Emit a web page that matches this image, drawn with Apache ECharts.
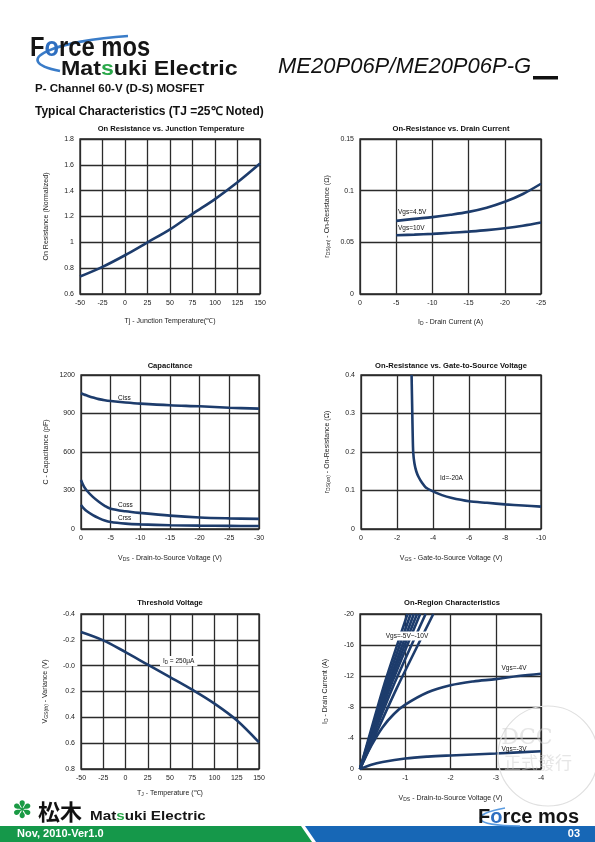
<!DOCTYPE html>
<html><head><meta charset="utf-8">
<script src="https://cdn.jsdelivr.net/npm/echarts@6/dist/echarts.min.js"></script>
<style>html,body{margin:0;padding:0;background:#fff;}#c{width:595px;height:842px;}</style>
</head><body><div id="c"></div>
<script>
// ---------- DATA ----------
// Chart 1: On Resistance vs. Junction Temperature
const c1Temp = [-50, -25, 0, 25, 50, 75, 100, 125, 150];
const c1Rds  = [0.735, 0.81, 0.9, 1.0, 1.1, 1.22, 1.335, 1.465, 1.61];
// Chart 2: On-Resistance vs. Drain Current
const c2Id     = [-5, -7.5, -10, -12.5, -15, -17.5, -20, -22.5, -25];
const c2Vgs45  = [0.0708, 0.0727, 0.0744, 0.0767, 0.0795, 0.0835, 0.0892, 0.0968, 0.1067];
const c2Vgs10  = [0.0569, 0.0575, 0.0582, 0.0592, 0.0604, 0.0618, 0.0637, 0.0661, 0.0692];
// Chart 3: Capacitance
const c3Vds  = [0, -0.5, -1, -2, -3, -4, -5, -7.5, -10, -15, -20, -25, -30];
const c3Ciss = [1058, 1048, 1040, 1025, 1012, 1003, 997, 986, 977, 964, 956, 945, 938];
const c3Coss = [382, 330, 298, 250, 212, 180, 158, 138, 125, 104, 90, 83, 79];
const c3Crss = [187, 158, 138, 108, 85, 66, 54, 42, 36, 29, 26, 24, 23];
// Chart 4: On-Resistance vs. Gate-to-Source Voltage (Id=-20A)
const c4Vgs = [-2.81, -2.83, -2.85, -2.87, -2.9, -2.97, -3.07, -3.2, -3.39, -3.6, -3.94, -4.5, -5, -6, -7, -8, -9, -10];
const c4Rds = [0.40, 0.35, 0.30, 0.25, 0.20, 0.17, 0.15, 0.135, 0.12, 0.108, 0.099, 0.088, 0.081, 0.072, 0.068, 0.064, 0.061, 0.058];
// Chart 5: Threshold Voltage
const c5Tj  = [-50, -25, 0, 25, 50, 75, 100, 125, 150];
const c5Vth = [-0.261, -0.196, -0.105, -0.008, 0.088, 0.186, 0.294, 0.423, 0.594];
// Chart 6: On-Region Characteristics
const c6Vds10  = [0, -0.52, -1.05];   const c6Id10  = [0, -10.6, -20];
const c6Vds9   = [0, -0.56, -1.12];   const c6Id9   = [0, -10.6, -20];
const c6Vds8   = [0, -0.6, -1.19];    const c6Id8   = [0, -10.6, -20];
const c6Vds7   = [0, -0.63, -1.26];   const c6Id7   = [0, -10.6, -20];
const c6Vds6   = [0, -0.67, -1.33];   const c6Id6   = [0, -10.6, -20];
const c6Vds55  = [0, -0.72, -1.45];   const c6Id55  = [0, -10.5, -20];
const c6Vds5   = [0, -0.81, -1.62];   const c6Id5   = [0, -10.4, -20];
const c6Vds4   = [0, -0.25, -0.5, -0.75, -1, -1.5, -2, -2.5, -3, -3.5, -4];
const c6Id4    = [0, -3.0, -5.4, -7.1, -8.3, -9.9, -10.8, -11.3, -11.6, -12.0, -12.3];
const c6Vds3   = [0, -0.25, -0.5, -1, -1.5, -2, -3, -4];
const c6Id3    = [0, -0.55, -0.9, -1.35, -1.6, -1.75, -2.0, -2.3];

// ---------- BUILD ----------
const FONT = 'Liberation Sans';
const CURVE = '#1d3c6c';
const zip = (a, b) => a.map((v, i) => [v, b[i]]);

function grid(l, t, w, h) {
  return { left: l, top: t, width: w, height: h, show: true, borderColor: '#222', borderWidth: 1.3, containLabel: false };
}
function axis(o) {
  const base = {
    type: 'value',
    axisLine: { show: false }, axisTick: { show: false },
    splitLine: { show: true, lineStyle: { color: '#2b2b2b', width: 1.3 } },
    axisLabel: { fontSize: 7, color: '#222', fontFamily: FONT, margin: 6, formatter: v => String(Math.round(v * 1000) / 1000) },
    nameLocation: 'middle',
    nameTextStyle: { fontSize: 7, color: '#222', fontFamily: FONT,
      rich: { n: { fontSize: 7, color: '#222', fontFamily: FONT }, s: { fontSize: 5, color: '#222', fontFamily: FONT, padding: [3, 0, 0, 0] } } }
  };
  return Object.assign(base, o);
}
function line(xi, data, extra) {
  return Object.assign({ type: 'line', xAxisIndex: xi, yAxisIndex: xi, data: data, smooth: 0.35,
    showSymbol: false, symbol: 'none', silent: true, animation: false,
    lineStyle: { color: CURVE, width: 2.6 } }, extra || {});
}

const grids = [
  grid(80, 139, 180, 155),
  grid(360, 139, 181, 155),
  grid(81, 375, 178, 154),
  grid(361, 375, 180, 154),
  grid(81, 614, 178, 155),
  grid(360, 614, 181, 155)
];

const xAxes = [
  axis({ gridIndex: 0, min: -50, max: 150, interval: 25, name: 'Tj - Junction Temperature(\u2103)', nameGap: 24 }),
  axis({ gridIndex: 1, min: -25, max: 0, interval: 5, inverse: true, name: '{n|I}{s|D}{n| - Drain Current (A)}', nameGap: 24 }),
  axis({ gridIndex: 2, min: -30, max: 0, interval: 5, inverse: true, name: '{n|V}{s|DS}{n| - Drain-to-Source Voltage (V)}', nameGap: 25 }),
  axis({ gridIndex: 3, min: -10, max: 0, interval: 2, inverse: true, name: '{n|V}{s|GS}{n| - Gate-to-Source Voltage (V)}', nameGap: 25 }),
  axis({ gridIndex: 4, min: -50, max: 150, interval: 25, name: '{n|T}{s|J}{n| - Temperature (\u2103)}', nameGap: 20 }),
  axis({ gridIndex: 5, min: -4, max: 0, interval: 1, inverse: true, name: '{n|V}{s|DS}{n| - Drain-to-Source Voltage (V)}', nameGap: 25 })
];
const yAxes = [
  axis({ gridIndex: 0, min: 0.6, max: 1.8, interval: 0.2, name: 'On Resistance (Normalized)', nameGap: 30 }),
  axis({ gridIndex: 1, min: 0, max: 0.15, interval: 0.05, name: '{n|r}{s|DS(on)}{n| - On-Resistance (\u03A9)}', nameGap: 29 }),
  axis({ gridIndex: 2, min: 0, max: 1200, interval: 300, name: 'C - Capacitance (pF)', nameGap: 31 }),
  axis({ gridIndex: 3, min: 0, max: 0.4, interval: 0.1, name: '{n|r}{s|DS(on)}{n| - On-Resistance (\u03A9)}', nameGap: 30 }),
  axis({ gridIndex: 4, min: -0.4, max: 0.8, interval: 0.2, inverse: true, name: '{n|V}{s|GS(th)}{n| - Variance (V)}', nameGap: 32,
         axisLabel: { fontSize: 7, color: '#222', fontFamily: FONT, margin: 6,
           formatter: v => Math.abs(v) < 1e-9 ? '-0.0' : (Math.round(v * 10) / 10).toFixed(1) } }),
  axis({ gridIndex: 5, min: -20, max: 0, interval: 4, inverse: true, name: '{n|I}{s|D}{n| - Drain Current (A)}', nameGap: 31 })
];

const series = [
  line(0, zip(c1Temp, c1Rds)),
  line(1, zip(c2Id, c2Vgs45)),
  line(1, zip(c2Id, c2Vgs10)),
  line(2, zip(c3Vds, c3Ciss)),
  line(2, zip(c3Vds, c3Coss)),
  line(2, zip(c3Vds, c3Crss)),
  line(3, zip(c4Vgs, c4Rds), { smooth: 0.25 }),
  line(4, zip(c5Tj, c5Vth)),
  line(5, zip(c6Vds10, c6Id10), { smooth: 0.2 }),
  line(5, zip(c6Vds9, c6Id9), { smooth: 0.2 }),
  line(5, zip(c6Vds8, c6Id8), { smooth: 0.2 }),
  line(5, zip(c6Vds7, c6Id7), { smooth: 0.2 }),
  line(5, zip(c6Vds6, c6Id6), { smooth: 0.2 }),
  line(5, zip(c6Vds55, c6Id55), { smooth: 0.2 }),
  line(5, zip(c6Vds5, c6Id5), { smooth: 0.2 }),
  line(5, zip(c6Vds4, c6Id4)),
  line(5, zip(c6Vds3, c6Id3))
];

function txt(x, y, text, font, opts, extra) {
  return Object.assign({ type: 'text', x: x, y: y, z: 100,
    style: Object.assign({ text: text, font: font, fill: '#111', align: 'left', verticalAlign: 'middle' }, (opts || {})) }, extra || {});
}
const T7b = 'bold 7.6px "Liberation Sans"';
const L6 = '6.5px "Liberation Sans"';

const graphic = [
  // header logo swoosh
  { type: 'bezierCurve', z: 90, shape: { x1: 128, y1: 36, cpx1: 60, cpy1: 40, cpx2: 5, cpy2: 60, x2: 60, y2: 71 },
    style: { stroke: '#3a7cc8', lineWidth: 2.6, fill: null } },
  txt(30, 49, '{a|F}{b|o}{a|rce mos}', '', { rich: {
      a: { font: 'bold 27px "Liberation Sans"', fill: '#151515' },
      b: { font: 'bold 27px "Liberation Sans"', fill: '#2f6fc0' } } }, { scaleX: 0.88 }),
  txt(61, 69, '{a|Mat}{g|s}{a|uki Electric}', '', { rich: {
      a: { font: 'bold 20px "Liberation Sans"', fill: '#151515' },
      g: { font: 'bold 20px "Liberation Sans"', fill: '#2aa84a' } } }, { scaleX: 1.16 }),
  txt(278, 67, 'ME20P06P/ME20P06P-G', 'italic 22px "Liberation Sans"', { fill: '#111' }),
  { type: 'rect', z: 90, shape: { x: 533, y: 76, width: 25, height: 3.5 }, style: { fill: '#111' } },
  txt(35, 89, 'P- Channel 60-V (D-S) MOSFET', 'bold 11.5px "Liberation Sans"'),
  txt(35, 112, 'Typical Characteristics (TJ =25\u2103 Noted)', 'bold 12px "Liberation Sans"'),

  // chart titles
  txt(171, 129, 'On Resistance vs. Junction Temperature', T7b, { align: 'center' }),
  txt(451, 129, 'On-Resistance vs. Drain Current', T7b, { align: 'center' }),
  txt(170, 366, 'Capacitance', T7b, { align: 'center' }),
  txt(451, 366, 'On-Resistance vs. Gate-to-Source Voltage', T7b, { align: 'center' }),
  txt(170, 603, 'Threshold Voltage', T7b, { align: 'center' }),
  txt(452, 603, 'On-Region Characteristics', T7b, { align: 'center' }),

  // curve annotations
  txt(398, 212, 'Vgs=4.5V', L6),
  txt(398, 228, 'Vgs=10V', L6),
  txt(118, 398, 'Ciss', L6),
  txt(118, 505, 'Coss', L6),
  txt(118, 518, 'Crss', L6),
  txt(440, 478, 'Id=-20A', L6),
  txt(160, 661, '{a|I}{s|D}{a| = 250\u03BCA}', '', { backgroundColor: '#fff', padding: [1, 3, 1, 3],
      rich: { a: { font: L6, fill: '#111' }, s: { font: '4.5px "Liberation Sans"', fill: '#111', padding: [3, 0, 0, 0] } } }),
  txt(407, 636, 'Vgs=-5V~-10V', L6, { align: 'center', backgroundColor: '#fff', padding: [1, 2, 1, 2] }),
  txt(514, 668, 'Vgs=-4V', L6, { align: 'center' }),
  txt(514, 749, 'Vgs=-3V', L6, { align: 'center' }),

  // watermark stamp
  { type: 'circle', z: 95, shape: { cx: 548, cy: 756, r: 50 }, style: { fill: null, stroke: '#e0e0e0', lineWidth: 1.2 } },
  txt(527, 738, 'DCC', '22px "DejaVu Serif"', { fill: 'rgba(205,205,205,0.5)', align: 'center' }),
  txt(538, 763, '\u6B63\u5F0F\u767C\u884C', '17px "Noto Sans CJK TC"', { fill: 'rgba(205,205,205,0.5)', align: 'center' }),

  // footer
  { type: 'polygon', z: 90, shape: { points: [[0, 826], [301, 826], [312, 842], [0, 842]] }, style: { fill: '#15984a' } },
  { type: 'polygon', z: 90, shape: { points: [[305, 826], [595, 826], [595, 842], [316, 842]] }, style: { fill: '#1767b6' } },
  txt(17, 834, 'Nov, 2010-Ver1.0', 'bold 11px "Liberation Sans"', { fill: '#fff' }),
  txt(580, 834, '03', 'bold 11px "Liberation Sans"', { fill: '#fff', align: 'right' }),
  txt(12, 812, '\u273D', 'bold 24px "DejaVu Sans"', { fill: '#1a9a44' }),
  txt(38, 812, '\u677E\u6728', 'bold 22px "Noto Sans CJK JP"', { fill: '#111' }),
  txt(90, 816, '{a|Mat}{g|s}{a|uki Electric}', '', { rich: {
      a: { font: 'bold 13px "Liberation Sans"', fill: '#151515' },
      g: { font: 'bold 13px "Liberation Sans"', fill: '#2aa84a' } } }, { scaleX: 1.17 }),
  { type: 'bezierCurve', z: 96, shape: { x1: 505, y1: 808, cpx1: 470, cpy1: 814, cpx2: 470, cpy2: 826, x2: 520, y2: 826 },
    style: { stroke: '#5a9be0', lineWidth: 1.6, fill: null } },
  txt(478, 817, '{a|F}{b|o}{a|rce mos}', '', { rich: {
      a: { font: 'bold 20px "Liberation Sans"', fill: '#151515' },
      b: { font: 'bold 20px "Liberation Sans"', fill: '#2f6fc0' } } })
];

const chart = echarts.init(document.getElementById('c'), null, { renderer: 'canvas' });
chart.setOption({
  animation: false,
  backgroundColor: '#fff',
  grid: grids,
  xAxis: xAxes,
  yAxis: yAxes,
  series: series,
  graphic: graphic
});
</script>
</body></html>
